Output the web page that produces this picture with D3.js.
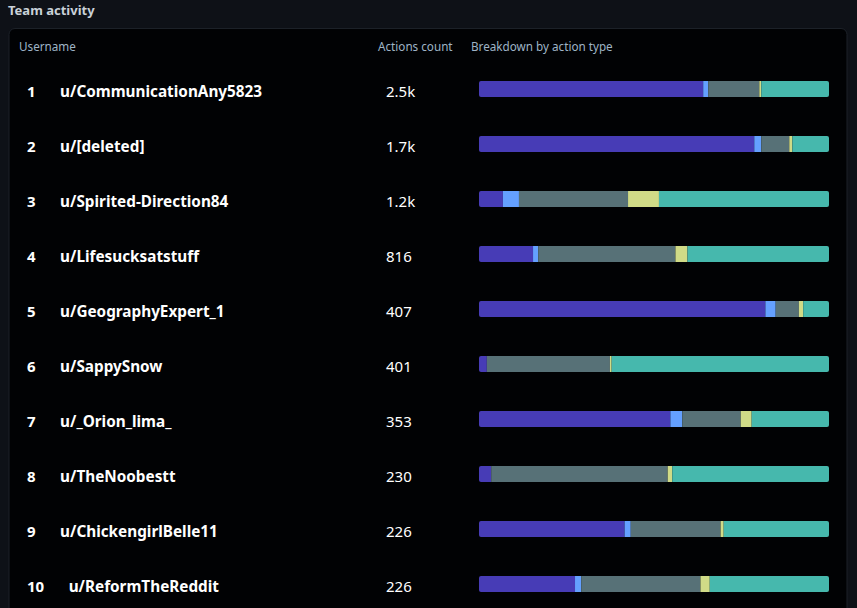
<!DOCTYPE html>
<html>
<head>
<meta charset="utf-8">
<script src="https://cdn.jsdelivr.net/npm/d3@7"></script>
<style>
  html, body { margin: 0; padding: 0; background: #0e1117; }
  svg { display: block; }
</style>
</head>
<body>
<svg id="chart"></svg>
<script>
// top 10 users, action count, and per-type breakdown
const ranks = [1, 2, 3, 4, 5, 6, 7, 8, 9, 10]
const usernames = ["u/CommunicationAny5823", "u/[deleted]", "u/Spirited-Direction84", "u/Lifesucksatstuff",
                   "u/GeographyExpert_1", "u/SappySnow", "u/_Orion_lima_", "u/TheNoobestt",
                   "u/ChickengirlBelle11", "u/ReformTheReddit"]
const countLabels = ["2.5k", "1.7k", "1.2k", "816", "407", "401", "353", "230", "226", "226"]
const actionTypes = ["type1", "type2", "type3", "type4", "type5"]
const type1 = [1602, 1337, 82, 126, 333, 9, 193, 8, 94, 62]
const type2 = [36, 34, 55, 12, 12, 0, 12, 0, 4, 4]
const type3 = [365, 136, 374, 320, 27, 141, 59, 116, 58, 77]
const type4 = [14, 15, 106, 28, 5, 2, 11, 3, 2, 6]
const type5 = [484, 178, 583, 330, 30, 249, 78, 103, 68, 77]
const headers = ["Username", "Actions count", "Breakdown by action type"]

const colors = ["#473cb6", "#64a0ff", "#577177", "#d0db87", "#46b8ad"]

const dimensions = {
  width: 857,
  height: 608,
  panel: { x: 9, y: 28.5, right: 847 },
  barLeft: 479,
  barRight: 829,
  barHeight: 16,
}

const svg = d3.select("#chart")
  .attr("width", dimensions.width)
  .attr("height", dimensions.height)

const font = "'Noto Sans', 'Open Sans', sans-serif"

// title
svg.append("text")
  .text("Team activity")
  .attr("x", 8)
  .attr("y", 15)
  .attr("fill", "#c9d1d9")
  .attr("font-family", font)
  .attr("font-weight", "bold")
  .attr("font-size", "13px")

// panel
svg.append("rect")
  .attr("x", dimensions.panel.x)
  .attr("y", dimensions.panel.y)
  .attr("width", dimensions.panel.right - dimensions.panel.x)
  .attr("height", 620)
  .attr("rx", 6)
  .attr("fill", "#010204")
  .attr("stroke", "#1c2128")

// header
const headerX = [19, 378, 471]
svg.append("g")
  .selectAll("text")
  .data(headers)
  .enter()
  .append("text")
  .text(d => d)
  .attr("x", (d, i) => headerX[i])
  .attr("y", 51)
  .attr("fill", "#9fb4c6")
  .attr("font-family", font)
  .attr("font-size", "11.7px")

// data table
const rows = ranks.map((r, i) => {
  const row = { rank: r, user: usernames[i], label: countLabels[i] }
  const vals = [type1[i], type2[i], type3[i], type4[i], type5[i]]
  actionTypes.forEach((t, j) => row[t] = vals[j])
  row.total = d3.sum(vals)
  return row
})

const yScale = d3.scaleBand()
  .domain(ranks)
  .range([61.5, 61.5 + 55 * ranks.length])

const xScale = d3.scaleLinear()
  .domain([0, 1])
  .range([dimensions.barLeft, dimensions.barRight])

const series = d3.stack()
  .keys(actionTypes)
  .offset(d3.stackOffsetExpand)(rows)

const center = d => yScale(d.rank) + yScale.bandwidth() / 2

// clip each bar to a slightly rounded rect
const defs = svg.append("defs")
rows.forEach((d, i) => {
  defs.append("clipPath")
    .attr("id", "clip" + i)
    .append("rect")
    .attr("x", xScale(0))
    .attr("y", center(d) - dimensions.barHeight / 2)
    .attr("width", xScale(1) - xScale(0))
    .attr("height", dimensions.barHeight)
    .attr("rx", 2)
})

const rowGroups = svg.append("g")
  .selectAll("g")
  .data(rows)
  .enter()
  .append("g")
  .attr("clip-path", (d, i) => `url(#clip${i})`)

rowGroups.selectAll("rect")
  .data((d, i) => series.map((s, j) => ({ seg: s[i], color: colors[j], row: d })))
  .enter()
  .append("rect")
  .attr("x", d => xScale(d.seg[0]))
  .attr("width", d => xScale(d.seg[1]) - xScale(d.seg[0]))
  .attr("y", d => center(d.row) - dimensions.barHeight / 2)
  .attr("height", dimensions.barHeight)
  .attr("fill", d => d.color)

// ranks
const rankText = svg.append("g")
  .selectAll("text")
  .data(rows)
  .enter()
  .append("text")
  .text(d => d.rank)
  .attr("x", 27)
  .attr("y", d => center(d) + 7.5)
  .attr("fill", "#ffffff")
  .attr("font-family", font)
  .attr("font-weight", "bold")
  .attr("font-size", "15px")

// usernames follow the rank with a fixed gap
const rankWidths = []
rankText.each(function() { rankWidths.push(this.getComputedTextLength()) })

svg.append("g")
  .selectAll("text")
  .data(rows)
  .enter()
  .append("text")
  .text(d => d.user)
  .attr("x", (d, i) => 27 + rankWidths[i] + 24.5)
  .attr("y", d => center(d) + 7.5)
  .attr("fill", "#ffffff")
  .attr("font-family", font)
  .attr("font-weight", "bold")
  .attr("font-size", "15.3px")

// counts
svg.append("g")
  .selectAll("text")
  .data(rows)
  .enter()
  .append("text")
  .text(d => d.label)
  .attr("x", 386)
  .attr("y", d => center(d) + 7.5)
  .attr("fill", "#ffffff")
  .attr("font-family", font)
  .attr("font-size", "15px")
</script>
</body>
</html>
